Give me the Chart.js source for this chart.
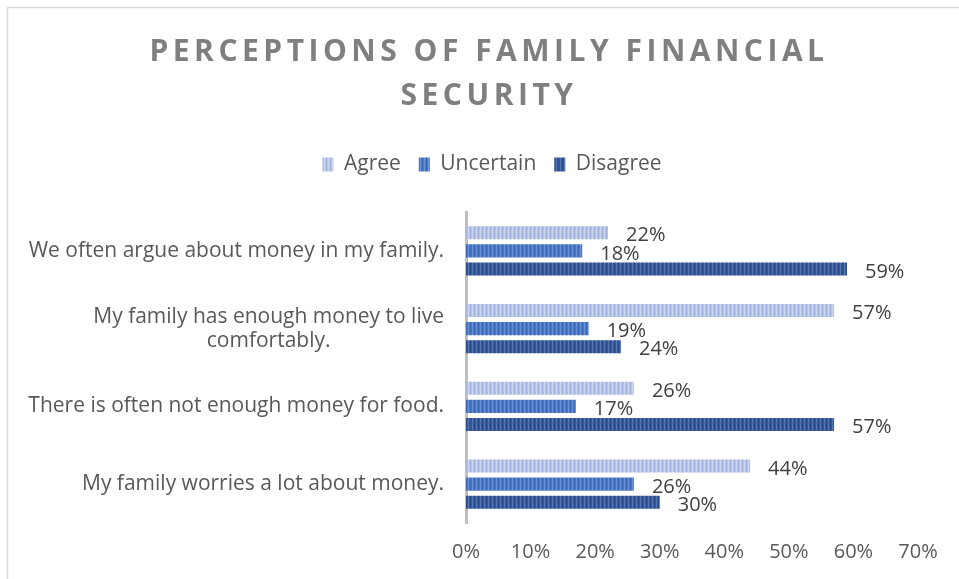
<!DOCTYPE html>
<html>
<head>
<meta charset="utf-8">
<title>Perceptions of Family Financial Security</title>
<script src="https://cdn.jsdelivr.net/npm/chart.js@4.4.1/dist/chart.umd.min.js"></script>
<style>
    html, body { margin: 0; padding: 0; background: #ffffff; }
    #chart-container { width: 959px; height: 579px; position: relative; }
</style>
</head>
<body>
<div id="chart-container"><canvas id="perceptionChart" width="959" height="579"></canvas></div>
<script>
// Survey data (percent of respondents)
const titleLines = ['PERCEPTIONS OF FAMILY FINANCIAL', 'SECURITY'];
const statements = [
    ['We often argue about money in my family.'],
    ['My family has enough money to live', 'comfortably.'],
    ['There is often not enough money for food.'],
    ['My family worries a lot about money.']
];
const seriesNames = ['Agree', 'Uncertain', 'Disagree'];
const agreeValues = [22, 57, 26, 44];
const uncertainValues = [18, 19, 17, 26];
const disagreeValues = [59, 24, 57, 30];
const axisMax = 70;
const axisStep = 10;

const FONT = '"Open Sans", "Liberation Sans", sans-serif';

// Vertical pin-stripe fill used for the bars and legend swatches
function stripePattern(base, light, dark) {
    const c = document.createElement('canvas');
    c.width = 4;
    c.height = 4;
    const g = c.getContext('2d');
    g.fillStyle = base;
    g.fillRect(0, 0, 4, 4);
    g.fillStyle = light;
    g.fillRect(0, 0, 1, 4);
    g.fillStyle = dark;
    g.fillRect(2, 0, 1, 4);
    return g.createPattern(c, 'repeat');
}

const fills = [
    stripePattern('#b4c2e6', '#cdd6ef', '#a3b3df'),
    stripePattern('#4a78c8', '#6b91d6', '#3d6ab8'),
    stripePattern('#34589c', '#5676b2', '#2b4c8c')
];

// Light frame around the chart
const framePlugin = {
    id: 'frame',
    beforeDraw(chart) {
        const ctx = chart.ctx;
        ctx.save();
        ctx.fillStyle = '#ffffff';
        ctx.fillRect(0, 0, chart.width, chart.height);
        ctx.strokeStyle = '#d9d9d9';
        ctx.lineWidth = 1.5;
        ctx.beginPath();
        ctx.moveTo(7.5, chart.height);
        ctx.lineTo(7.5, 7.5);
        ctx.lineTo(chart.width, 7.5);
        ctx.stroke();
        ctx.restore();
    }
};

// Spaced-out title in the top padding
const titlePlugin = {
    id: 'spacedTitle',
    afterDraw(chart) {
        const ctx = chart.ctx;
        ctx.save();
        ctx.font = 'bold 30px ' + FONT;
        ctx.fillStyle = '#7f7f7f';
        ctx.textAlign = 'center';
        ctx.textBaseline = 'middle';
        if ('letterSpacing' in ctx) ctx.letterSpacing = '4.5px';
        titleLines.forEach((line, i) => {
            ctx.fillText(line, 489, 52 + i * 44);
        });
        ctx.restore();
    }
};

// Statement labels: right-aligned block, lines centred within the block
const categoryLabelPlugin = {
    id: 'categoryLabels',
    afterDraw(chart) {
        const ctx = chart.ctx;
        const yScale = chart.scales.y;
        const right = chart.chartArea.left - 22;
        const lineHeight = 24;
        ctx.save();
        ctx.font = '21px ' + FONT;
        ctx.fillStyle = '#595959';
        ctx.textAlign = 'center';
        ctx.textBaseline = 'middle';
        statements.forEach((lines, i) => {
            const widest = Math.max(...lines.map(l => ctx.measureText(l).width));
            const cx = right - widest / 2;
            const cy = yScale.getPixelForValue(i);
            const top = cy - (lines.length - 1) * lineHeight / 2;
            lines.forEach((l, j) => ctx.fillText(l, cx, top + j * lineHeight));
        });
        ctx.restore();
    }
};

// Percentage labels just past the end of each bar
const valueLabelPlugin = {
    id: 'valueLabels',
    afterDatasetsDraw(chart) {
        const ctx = chart.ctx;
        ctx.save();
        ctx.font = '20px ' + FONT;
        ctx.fillStyle = '#404040';
        ctx.textAlign = 'left';
        ctx.textBaseline = 'middle';
        chart.data.datasets.forEach((ds, d) => {
            chart.getDatasetMeta(d).data.forEach((bar, i) => {
                ctx.fillText(ds.data[i] + '%', bar.x + 18, bar.y + 3);
            });
        });
        ctx.restore();
    }
};

// Extra room under the legend, and legend nudged right over the plot
const legendGapPlugin = {
    id: 'legendGap',
    beforeInit(chart) {
        const fit = chart.legend.fit;
        chart.legend.fit = function() {
            fit.bind(chart.legend)();
            this.height += 27;
        };
    },
    afterLayout(chart) {
        chart.legend.left += 29;
        chart.legend.right += 29;
    }
};

const datasetValues = [agreeValues, uncertainValues, disagreeValues];

new Chart(document.getElementById('perceptionChart'), {
    type: 'bar',
    data: {
        labels: statements,
        datasets: seriesNames.map((name, i) => ({
            label: name,
            data: datasetValues[i],
            backgroundColor: fills[i],
            borderWidth: 0,
            categoryPercentage: 0.7,
            barPercentage: 0.72
        }))
    },
    options: {
        indexAxis: 'y',
        responsive: false,
        animation: false,
        layout: {
            padding: { top: 136, left: 8, right: 41, bottom: 6 }
        },
        plugins: {
            tooltip: { enabled: false },
            title: { display: false },
            legend: {
                position: 'top',
                labels: {
                    boxWidth: 11,
                    boxHeight: 14,
                    padding: 18,
                    color: '#595959',
                    font: { size: 21, family: FONT }
                }
            }
        },
        scales: {
            x: {
                min: 0,
                max: axisMax,
                grid: { display: false },
                border: { display: false },
                ticks: {
                    stepSize: axisStep,
                    padding: 9,
                    color: '#595959',
                    font: { size: 20, family: FONT },
                    callback: v => v + '%'
                }
            },
            y: {
                grid: { display: false },
                border: { display: true, color: '#bfbfbf', width: 3 },
                ticks: { display: false },
                afterFit(scale) { scale.width = 458; }
            }
        }
    },
    plugins: [framePlugin, legendGapPlugin, titlePlugin, categoryLabelPlugin, valueLabelPlugin]
});
</script>
</body>
</html>
